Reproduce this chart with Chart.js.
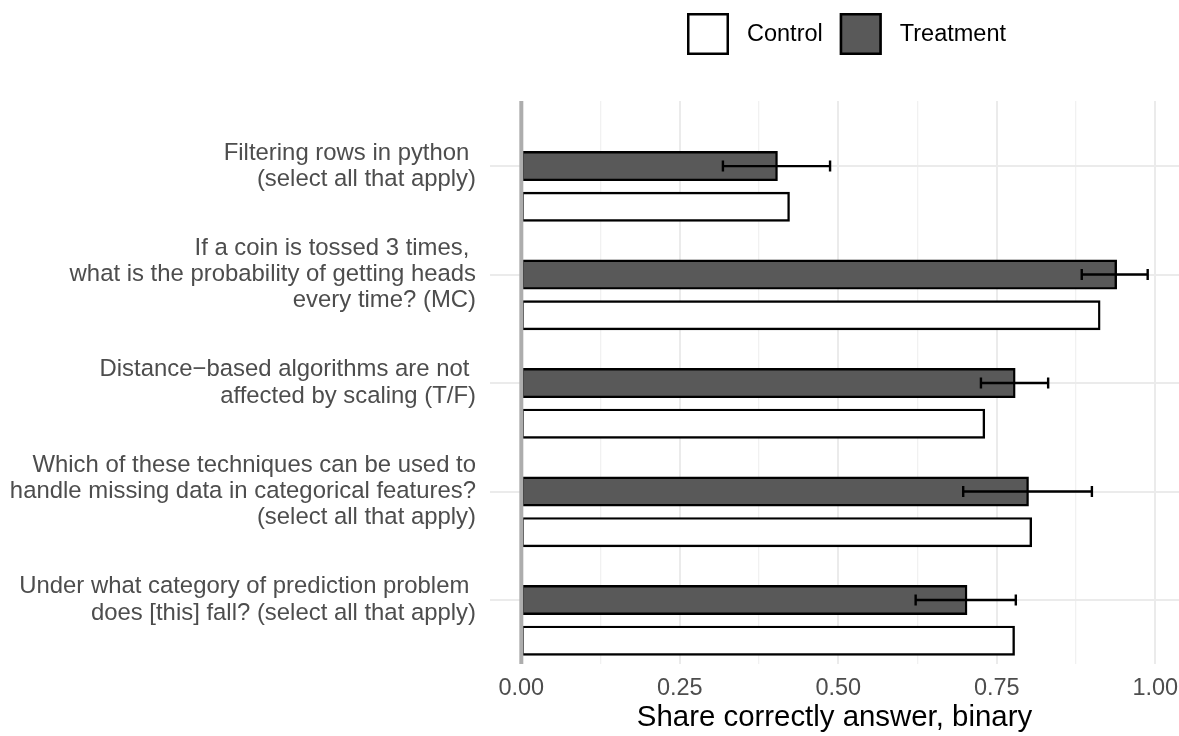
<!DOCTYPE html>
<html>
<head>
<meta charset="utf-8">
<script src="https://cdn.jsdelivr.net/npm/chart.js@4.4.0/dist/chart.umd.min.js"></script>
<style>
  html, body { margin: 0; padding: 0; background: #ffffff; }
  canvas { display: block; }
</style>
</head>
<body>
<canvas id="chart" width="1179" height="736"></canvas>
<script>
// Survey questions (multi-line labels, top to bottom)
const questions = [
  ['Filtering rows in python ', '(select all that apply)'],
  ['If a coin is tossed 3 times, ', 'what is the probability of getting heads', 'every time? (MC)'],
  ['Distance\u2212based algorithms are not ', 'affected by scaling (T/F)'],
  ['Which of these techniques can be used to', 'handle missing data in categorical features?', '(select all that apply)'],
  ['Under what category of prediction problem ', 'does [this] fall? (select all that apply)']
];

// Share of correct answers per group
const treatment     = [0.403, 0.938, 0.778, 0.799, 0.702];
const treatmentLow  = [0.318, 0.884, 0.725, 0.697, 0.622];
const treatmentHigh = [0.487, 0.988, 0.831, 0.900, 0.780];
const control       = [0.422, 0.912, 0.730, 0.804, 0.777];

// x-axis ticks: labelled majors and unlabelled minors
const xTicks = [0, 0.125, 0.25, 0.375, 0.5, 0.625, 0.75, 0.875, 1.0];
const xMajor = [0, 0.25, 0.5, 0.75, 1.0];

const FONT = "'Liberation Sans', Arial, Helvetica, sans-serif";
const CONTROL_SHIFT = 0.375;   // control bar sits just below its question row

const isMajor = v => xMajor.some(m => Math.abs(m - v) < 1e-9);

// Confidence intervals for the treatment group and the zero reference line
const overlayPlugin = {
  id: 'overlay',
  afterDatasetsDraw(chart) {
    const { ctx, chartArea, scales } = chart;
    const xs = scales.x, ys = scales.y;
    ctx.save();
    ctx.strokeStyle = '#000000';
    ctx.lineWidth = 2.4;
    treatment.forEach((_, i) => {
      const y = ys.getPixelForValue(i);
      const x1 = xs.getPixelForValue(treatmentLow[i]);
      const x2 = xs.getPixelForValue(treatmentHigh[i]);
      ctx.beginPath();
      ctx.moveTo(x1, y); ctx.lineTo(x2, y);
      ctx.moveTo(x1, y - 5.5); ctx.lineTo(x1, y + 5.5);
      ctx.moveTo(x2, y - 5.5); ctx.lineTo(x2, y + 5.5);
      ctx.stroke();
    });
    const x0 = xs.getPixelForValue(0);
    ctx.strokeStyle = '#ADADAD';
    ctx.lineWidth = 4;
    ctx.beginPath();
    ctx.moveTo(x0, chartArea.top);
    ctx.lineTo(x0, chartArea.bottom);
    ctx.stroke();
    ctx.restore();
  }
};

// Legend keys across the top
const legendPlugin = {
  id: 'topLegend',
  afterDraw(chart) {
    const { ctx, chartArea } = chart;
    const key = 42, cy = 34;
    let x = chartArea.left + 197;
    ctx.save();
    ctx.font = '23.5px ' + FONT;
    ctx.textBaseline = 'middle';
    ctx.textAlign = 'left';
    chart.data.datasets.forEach(ds => {
      ctx.fillStyle = ds.backgroundColor;
      ctx.fillRect(x, cy - key / 2, key, key);
      ctx.strokeStyle = '#000000';
      ctx.lineWidth = 2.5;
      ctx.strokeRect(x + 1.25, cy - key / 2 + 1.25, key - 2.5, key - 2.5);
      ctx.fillStyle = '#000000';
      const tx = x + key + 18;
      ctx.fillText(ds.label, tx, cy + 1);
      x = tx + ctx.measureText(ds.label).width + 17;
    });
    ctx.restore();
  }
};

const barCommon = {
  borderColor: '#000000',
  borderWidth: 2.4,
  borderSkipped: false,
  barThickness: 28,
  inflateAmount: 1,
  grouped: false
};

new Chart(document.getElementById('chart'), {
  type: 'bar',
  data: {
    datasets: [
      Object.assign({
        label: 'Control',
        backgroundColor: '#FFFFFF',
        data: control.map((v, i) => ({ x: v, y: i + CONTROL_SHIFT }))
      }, barCommon),
      Object.assign({
        label: 'Treatment',
        backgroundColor: '#595959',
        data: treatment.map((v, i) => ({ x: v, y: i }))
      }, barCommon)
    ]
  },
  options: {
    indexAxis: 'y',
    responsive: false,
    animation: false,
    devicePixelRatio: 1,
    layout: { padding: { top: 101, left: 0, right: 0, bottom: 0 } },
    plugins: {
      legend: { display: false },
      tooltip: { enabled: false }
    },
    scales: {
      x: {
        type: 'linear',
        min: -0.0494,
        max: 1.0374,
        afterBuildTicks: s => { s.ticks = xTicks.map(v => ({ value: v })); },
        afterFit: s => { s.height = 72; s.paddingLeft = 0; s.paddingRight = 0; },
        ticks: {
          autoSkip: false,
          maxRotation: 0,
          padding: 10,
          color: '#4D4D4D',
          font: { family: FONT, size: 23.5, lineHeight: 1.2 },
          callback: v => isMajor(v) ? v.toFixed(2) : ''
        },
        grid: {
          color: ctx => isMajor(ctx.tick.value) ? '#EBEBEB' : '#F1F1F1',
          lineWidth: ctx => isMajor(ctx.tick.value) ? 2 : 1.3,
          drawTicks: false
        },
        border: { display: false },
        title: {
          display: true,
          text: 'Share correctly answer, binary',
          color: '#000000',
          font: { family: FONT, size: 29.4, lineHeight: 1.2 },
          padding: { top: 0, bottom: 0 }
        }
      },
      y: {
        type: 'linear',
        reverse: true,
        offset: false,
        min: -0.6,
        max: 4.59,
        afterBuildTicks: s => { s.ticks = questions.map((_, i) => ({ value: i })); },
        afterFit: s => { s.width = 490; s.paddingTop = 0; s.paddingBottom = 0; },
        ticks: {
          autoSkip: false,
          padding: 14,
          color: '#4D4D4D',
          font: { family: FONT, size: 23.9, lineHeight: 1.1 },
          callback: v => questions[Math.round(v)]
        },
        grid: {
          offset: false,
          color: '#EBEBEB',
          lineWidth: 2,
          drawTicks: false
        },
        border: { display: false }
      }
    }
  },
  plugins: [overlayPlugin, legendPlugin]
});
</script>
</body>
</html>
